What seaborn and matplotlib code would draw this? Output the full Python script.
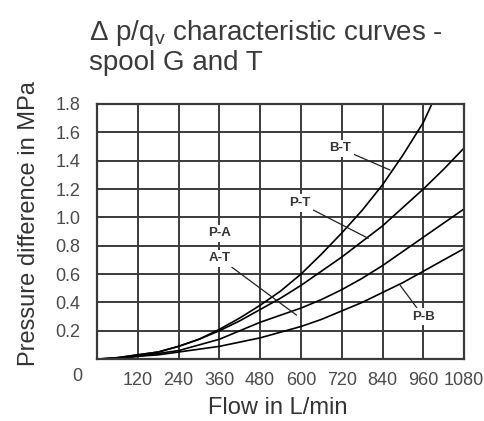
import pandas as pd
import matplotlib.pyplot as plt
import seaborn as sns

# values (flow in L/min, pressure difference in MPa)
flow = [0, 60, 120, 180, 240, 300, 360, 420, 480, 540, 600, 660, 720, 780,
        840, 900, 960, 1020, 1080]
flow_bt = [0, 60, 120, 180, 240, 300, 360, 420, 480, 540, 600, 660, 720, 780,
           840, 900, 960, 985]
dp_bt = [0, 0.01, 0.03, 0.05, 0.09, 0.14, 0.21, 0.29, 0.38, 0.48, 0.60, 0.74,
         0.89, 1.05, 1.23, 1.44, 1.67, 1.80]
dp_pt = [0, 0.01, 0.03, 0.05, 0.09, 0.14, 0.20, 0.27, 0.35, 0.43, 0.52, 0.62,
         0.72, 0.83, 0.94, 1.07, 1.20, 1.34, 1.49]
dp_pa = [0, 0.005, 0.02, 0.04, 0.06, 0.10, 0.14, 0.20, 0.26, 0.31, 0.36, 0.42,
         0.49, 0.57, 0.66, 0.76, 0.86, 0.96, 1.06]
dp_pb = [0, 0.005, 0.02, 0.03, 0.05, 0.07, 0.09, 0.12, 0.15, 0.19, 0.23, 0.28,
         0.34, 0.40, 0.47, 0.54, 0.62, 0.70, 0.78]

x_ticks = [120, 240, 360, 480, 600, 720, 840, 960, 1080]
y_ticks = [0.2, 0.4, 0.6, 0.8, 1.0, 1.2, 1.4, 1.6, 1.8]

# long table for seaborn
frames = []
for name, xs, ys in [('B-T', flow_bt, dp_bt), ('P-T', flow, dp_pt),
                     ('P-A', flow, dp_pa), ('P-B', flow, dp_pb)]:
    frames.append(pd.DataFrame({'flow': xs, 'dp': ys, 'curve': name}))
df = pd.concat(frames, ignore_index=True)

sns.set_style('white')
plt.rcParams['font.family'] = ['Liberation Sans', 'DejaVu Sans']
plt.rcParams['mathtext.fontset'] = 'custom'
plt.rcParams['mathtext.rm'] = 'Liberation Sans'

fig = plt.figure(figsize=(4.85, 4.21), dpi=100)
ax = fig.add_axes([0.2, 0.147, 0.757, 0.606])

grid_col = '#3a3a3a'
ax.set_xlim(0, 1080)
ax.set_ylim(0, 1.8)
ax.set_xticks(x_ticks)
ax.set_yticks(y_ticks)
ax.grid(True, color=grid_col, lw=1.4)
ax.set_axisbelow(True)
for s in ax.spines.values():
    s.set_color(grid_col)
    s.set_linewidth(1.6)

sns.lineplot(data=df, x='flow', y='dp', units='curve', estimator=None,
             color='black', lw=1.2, ax=ax, legend=False)

tick_col = '#4a4a4a'
ax.set_xticklabels([str(v) for v in x_ticks], fontsize=13, color=tick_col)
ax.set_yticklabels(['%.1f' % v for v in y_ticks], fontsize=13, color=tick_col)
ax.tick_params(axis='x', length=0, pad=9)
ax.tick_params(axis='y', length=0, pad=12)
ax.text(-0.04, -0.07, '0', transform=ax.transAxes, ha='right', va='center',
        fontsize=13, color=tick_col)

ax.set_xlabel('Flow in L/min', fontsize=17, color='#333333')
ax.set_ylabel('Pressure difference in MPa', fontsize=17, color='#333333')
ax.xaxis.set_label_coords(0.493, -0.15)
ax.yaxis.set_label_coords(-0.155, 0.533)

fig.text(0.183, 0.958, 'Δ p/q$_{\\rm v}$ characteristic curves -\nspool G and T',
         ha='left', va='top', fontsize=20, color='#3a3a3a', linespacing=1.1)

# curve labels with leader lines
lab = dict(fontsize=9.5, fontweight='bold', color='#333333', ha='center', va='center',
           bbox=dict(facecolor='white', edgecolor='none', pad=2))
line = dict(arrowstyle='-', color='#222222', lw=0.9, shrinkA=0, shrinkB=0)
ax.annotate('B-T', xy=(862, 1.334), xytext=(715, 1.487), arrowprops=line, **lab)
ax.annotate('P-T', xy=(798, 0.852), xytext=(597, 1.10), arrowprops=line, **lab)
ax.text(362, 0.887, 'P-A', **lab)
ax.annotate('A-T', xy=(587, 0.31), xytext=(362, 0.71), arrowprops=line, **lab)
ax.annotate('P-B', xy=(892, 0.52), xytext=(960, 0.30), arrowprops=line, **lab)

fig.savefig('out.png', dpi=100)
